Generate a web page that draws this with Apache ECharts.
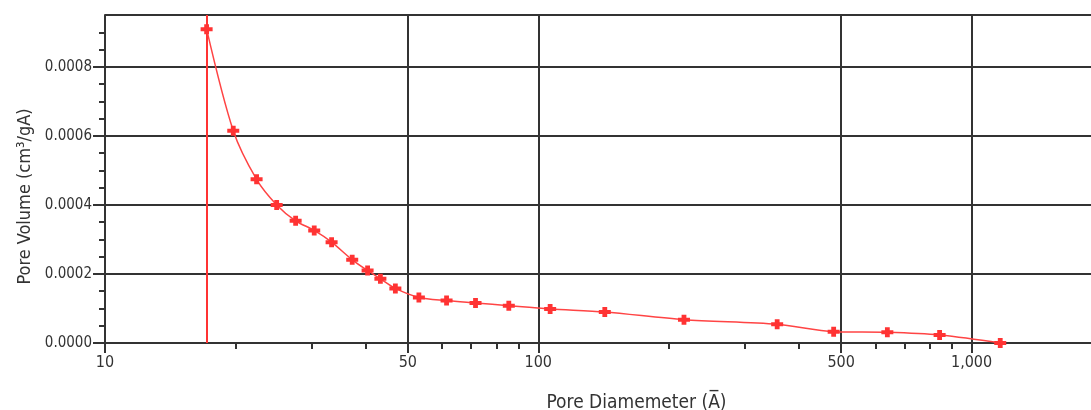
<!DOCTYPE html>
<html>
<head>
<meta charset="utf-8">
<script src="https://cdn.jsdelivr.net/npm/echarts@6/dist/echarts.min.js"></script>
<style>
  html, body { margin: 0; padding: 0; background: #fff; }
  #chart { width: 1091px; height: 410px; }
</style>
</head>
<body>
<div id="chart"></div>
<script>
// Pore size distribution: pore diameter in Å vs pore volume
const poreDiameter = [17.16, 19.77, 22.38, 24.90, 27.54, 30.40, 33.34, 37.20, 40.37, 43.21, 46.79,
  53.02, 61.42, 71.64, 85.50, 106.5, 142.4, 216.9, 355.9, 480.5, 639.2, 843.8, 1164.6];
const poreVolume = [0.000909, 0.000615, 0.000474, 0.000400, 0.000354, 0.000326, 0.000292, 0.000241,
  0.000210, 0.000186, 0.000158, 0.000132, 0.000123, 0.000116, 0.000108, 0.0000986, 0.0000899,
  0.0000675, 0.0000542, 0.0000328, 0.0000310, 0.0000232, 0.0];

// axis ticks
const xMajorTicks = [10, 50, 100, 500, 1000];
const xMinorTicks = [20, 30, 40, 60, 70, 80, 90, 200, 300, 400, 600, 700, 800, 900];
const yMajorTicks = [0, 0.0002, 0.0004, 0.0006, 0.0008];
const yMinorTicks = [0.00005, 0.0001, 0.00015, 0.00025, 0.0003, 0.00035, 0.00045, 0.0005, 0.00055,
  0.00065, 0.0007, 0.00075, 0.00085, 0.0009];

const FONT = "'DejaVu Sans Condensed', 'Liberation Sans', sans-serif";
const INK = '#333333';
const RED = '#ff3333';
// fat cross marker
const marker = 'path://M3,0 L7,0 L7,3 L10,3 L10,7 L7,7 L7,10 L3,10 L3,7 L0,7 L0,3 L3,3 Z';

const points = poreDiameter.map((d, i) => [d, poreVolume[i]]);

const chart = echarts.init(document.getElementById('chart'), null, { renderer: 'canvas' });

const logX = { type: 'log', logBase: 10, min: 10, max: 2000, gridIndex: 0 };
const linY = { type: 'value', min: 0, max: 0.00095, gridIndex: 0 };

chart.setOption({
  animation: false,
  backgroundColor: '#ffffff',
  grid: { left: 105, right: -11, top: 15, bottom: 67, containLabel: false, outerBoundsMode: 'none' },
  xAxis: [
    Object.assign({}, logX, {
      position: 'bottom',
      name: 'Pore Diamemeter (A\u0305)',
      nameLocation: 'middle',
      nameGap: 51,
      nameTextStyle: { fontFamily: FONT, fontSize: 19, color: INK, padding: [0, 0, 0, 66] },
      axisLine: { show: true, lineStyle: { color: INK, width: 2 } },
      axisTick: { show: true, inside: false, length: 10, customValues: xMajorTicks,
        lineStyle: { color: INK, width: 2 } },
      axisLabel: { show: true, customValues: xMajorTicks, margin: 12,
        fontFamily: FONT, fontSize: 16, color: INK,
        formatter: v => Number(v).toLocaleString('en-US') },
      splitLine: { show: true, lineStyle: { color: INK, width: 2 } },
      minorTick: { show: false }, minorSplitLine: { show: false }
    }),
    Object.assign({}, logX, {
      position: 'bottom',
      axisLine: { show: false },
      axisTick: { show: true, inside: false, length: 6, customValues: xMinorTicks,
        lineStyle: { color: INK, width: 2 } },
      axisLabel: { show: false },
      splitLine: { show: false }
    })
  ],
  yAxis: [
    Object.assign({}, linY, {
      position: 'left',
      interval: 0.0002,
      name: 'Pore Volume (cm\u00B3/gA)',
      nameLocation: 'middle',
      nameGap: 66,
      nameRotate: 90,
      nameTextStyle: { fontFamily: FONT, fontSize: 18, color: INK, padding: [0, 35, 0, 0] },
      axisLine: { show: true, lineStyle: { color: INK, width: 2 } },
      axisTick: { show: false },
      axisLabel: { show: true, margin: 13, showMaxLabel: false,
        fontFamily: FONT, fontSize: 15, color: INK,
        formatter: v => Number(v).toFixed(4) },
      splitLine: { show: true, lineStyle: { color: INK, width: 2 } }
    }),
    Object.assign({}, linY, {
      position: 'left',
      axisLine: { show: false },
      axisTick: { show: true, inside: false, length: 12, customValues: yMajorTicks,
        lineStyle: { color: INK, width: 2 } },
      axisLabel: { show: false },
      splitLine: { show: false }
    }),
    Object.assign({}, linY, {
      position: 'left',
      axisLine: { show: false },
      axisTick: { show: true, inside: false, length: 6, customValues: yMinorTicks,
        lineStyle: { color: INK, width: 2 } },
      axisLabel: { show: false },
      splitLine: { show: false }
    })
  ],
  series: [{
    type: 'line',
    xAxisIndex: 0,
    yAxisIndex: 0,
    data: points,
    smooth: 0.3,
    symbol: marker,
    symbolSize: [12, 10],
    showAllSymbol: true,
    itemStyle: { color: RED },
    lineStyle: { color: '#ff4444', width: 1.5 },
    markLine: {
      silent: true,
      symbol: 'none',
      label: { show: false },
      lineStyle: { color: RED, width: 2, type: 'solid' },
      data: [{ xAxis: poreDiameter[0] }]
    },
    z: 5
  }]
});
</script>
</body>
</html>
